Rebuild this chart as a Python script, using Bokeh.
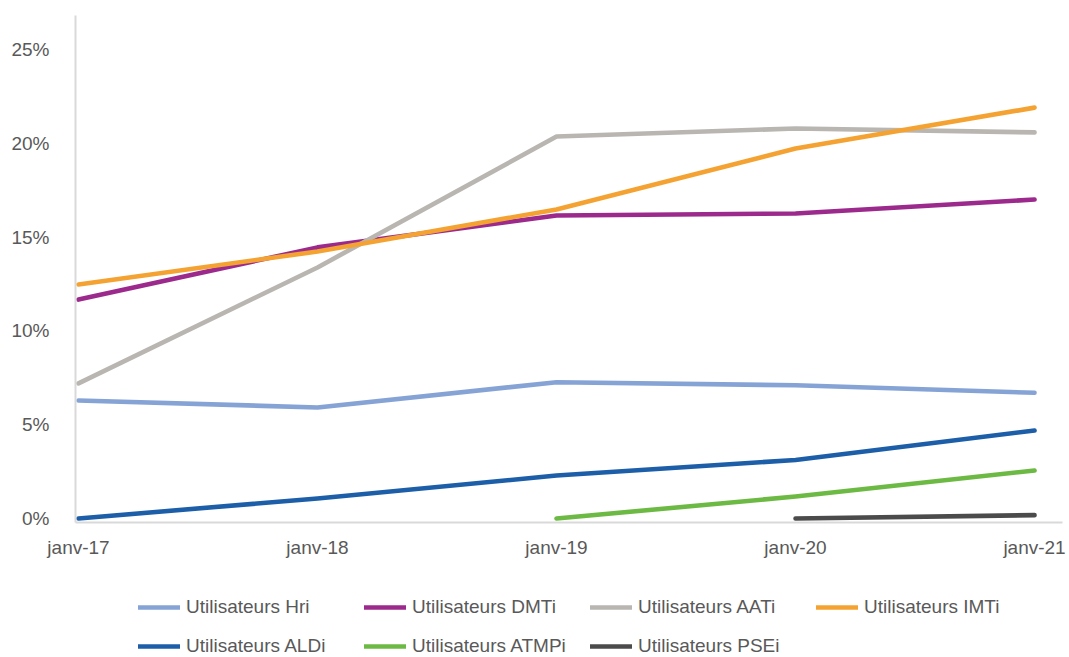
import numpy as np
from bokeh.plotting import figure
from bokeh.layouts import column
from bokeh.models import Legend, LegendItem, FixedTicker, Range1d
from bokeh.embed import file_html
from bokeh.resources import INLINE

nan = float("nan")

# ---- data ----
categories = ["janv-17", "janv-18", "janv-19", "janv-20", "janv-21"]
hri = [6.29, 5.92, 7.26, 7.1, 6.7]
dmti = [11.67, 14.45, 16.15, 16.26, 17.0]
aati = [7.2, 13.38, 20.36, 20.79, 20.58]
imti = [12.47, 14.23, 16.47, 19.72, 21.9]
aldi = [0.0, 1.07, 2.29, 3.12, 4.69]
atmpi = [nan, nan, 0.0, 1.17, 2.56]
psei = [nan, nan, nan, 0.0, 0.18]
y_ticks = [0, 5, 10, 15, 20, 25]
y_tick_labels = ["0%", "5%", "10%", "15%", "20%", "25%"]

series_names = ["Utilisateurs Hri", "Utilisateurs DMTi", "Utilisateurs AATi",
                "Utilisateurs IMTi", "Utilisateurs ALDi", "Utilisateurs ATMPi",
                "Utilisateurs PSEi"]
series_values = [hri, dmti, aati, imti, aldi, atmpi, psei]
series_colors = ["#86a3d6", "#9c2a8d", "#b9b6b1", "#f4a332", "#1d5ea8", "#6cba44", "#4b4b4b"]

FONT = "Liberation Sans"
TEXT = "#595959"
LW = 4.6

x = list(range(len(categories)))

p = figure(width=1069, height=560, output_backend="svg", toolbar_location=None,
           x_range=Range1d(-0.0126, 4.117), y_range=Range1d(-0.213, 26.81),
           min_border_left=75, min_border_right=7, min_border_top=15,
           min_border_bottom=38)
p.background_fill_color = "white"
p.border_fill_color = "white"
p.outline_line_color = None
p.xgrid.grid_line_color = None
p.ygrid.grid_line_color = None

for name, vals, col in zip(series_names, series_values, series_colors):
    p.line(x, vals, line_color=col, line_width=LW, line_cap="round", line_join="round")

# axes
p.xaxis.ticker = FixedTicker(ticks=x)
p.xaxis.major_label_overrides = {i: c for i, c in enumerate(categories)}
p.yaxis.ticker = FixedTicker(ticks=y_ticks)
p.yaxis.major_label_overrides = {t: l for t, l in zip(y_ticks, y_tick_labels)}
for ax in (p.xaxis, p.yaxis):
    ax.axis_line_color = "#d9d9d9"
    ax.axis_line_width = 2
    ax.major_tick_line_color = None
    ax.minor_tick_line_color = None
    ax.major_tick_out = 0
    ax.major_tick_in = 0
    ax.major_label_text_font = FONT
    ax.major_label_text_font_size = "19px"
    ax.major_label_text_color = TEXT
p.xaxis.major_label_standoff = 14
p.yaxis.major_label_standoff = 26

# ---- legend strip under the chart ----
# (series re-drawn outside its visible range so that only the legend keys show)
lg = figure(width=1069, height=97, output_backend="svg", toolbar_location=None,
            x_range=Range1d(100, 101), y_range=Range1d(100, 101),
            x_axis_type=None, y_axis_type=None,
            min_border_left=0, min_border_right=0, min_border_top=0, min_border_bottom=0)
lg.outline_line_color = None
lg.xgrid.grid_line_color = None
lg.ygrid.grid_line_color = None
lg.background_fill_color = "white"
lg.border_fill_color = "white"

keys = []
for vals, col in zip(series_values, series_colors):
    keys.append(lg.line(x, vals, line_color=col, line_width=LW, line_cap="round"))

rows = [[0, 1, 2, 3], [4, 5, 6]]
row_vy = [39, 0]
for idxs, vy in zip(rows, row_vy):
    items = [LegendItem(label=series_names[i], renderers=[keys[i]]) for i in idxs]
    leg = Legend(items=items, orientation="horizontal", location=(63, vy),
                 glyph_width=42, glyph_height=22, label_height=22, label_width=160,
                 label_standoff=6, spacing=18, padding=0, margin=0,
                 label_text_font=FONT, label_text_font_size="19px",
                 label_text_color=TEXT, border_line_color=None,
                 background_fill_alpha=0)
    lg.add_layout(leg, "center")

layout = column(p, lg, spacing=0)
open("out.html", "w").write(file_html(layout, INLINE))
